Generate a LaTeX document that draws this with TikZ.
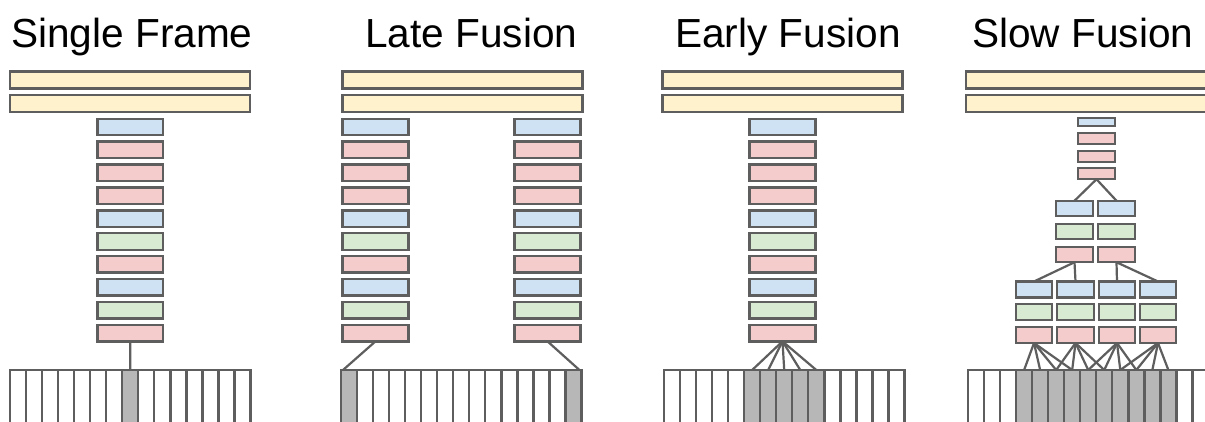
\documentclass[tikz,border=0pt]{standalone}
\usepackage{fontspec}
\setmainfont{Liberation Sans}
\definecolor{lc}{HTML}{5E5E5E}
\definecolor{cy}{HTML}{FFF2CC}
\definecolor{cb}{HTML}{CFE2F3}
\definecolor{cr}{HTML}{F4CCCC}
\definecolor{cg}{HTML}{D9EAD3}
\definecolor{cs}{HTML}{B7B7B7}
\tikzset{
  box/.style={draw=lc, line width=2.4pt, inner sep=0pt, outer sep=0pt, rectangle},
  bar/.style={box, fill=cy, minimum width=240pt, minimum height=17pt},
  colbox/.style={box, minimum width=65.7pt, minimum height=16.5pt},
  cell/.style={draw=lc, line width=2.4pt, fill=white, inner sep=0pt, outer sep=0pt, minimum width=16.03pt, minimum height=80pt},
  shaded/.style={cell, fill=cs},
  conn/.style={draw=lc, line width=2.2pt},
  title/.style={font=\fontsize{40.6}{48}\selectfont, anchor=base west, inner sep=0pt, text=black},
}
\begin{document}
\begin{tikzpicture}[x=1pt, y=-1pt]
\useasboundingbox (0,0) rectangle (1205,421);
\fill[white] (0,0) rectangle (1205,421);
\clip (0,0) rectangle (1205,421);

% titles
\node[title] (t1) at (11,47) {Single Frame};
\node[title] (t2) at (365,47) {Late Fusion};
\node[title] (t3) at (675,47) {Early Fusion};
\node[title] (t4) at (972,47) {Slow Fusion};

% top bars
\node[bar] (sf-y0) at (130,80) {};
\node[bar] (sf-y1) at (130,103.5) {};
\node[bar] (lf-y0) at (462.5,80) {};
\node[bar] (lf-y1) at (462.5,103.5) {};
\node[bar] (ef-y0) at (782.5,80) {};
\node[bar] (ef-y1) at (782.5,103.5) {};
\node[bar, minimum width=250pt] (sw-y0) at (1091,80) {};
\node[bar, minimum width=250pt] (sw-y1) at (1091,103.5) {};

% stacks
\foreach \c [count=\i from 0] in {cb,cr,cr,cr,cb,cg,cr,cb,cg,cr}{
  \node[colbox, fill=\c] (sf-b\i) at (130.2,{127+22.9*\i}) {};
  \node[colbox, fill=\c] (lfL-b\i) at (375.5,{127+22.9*\i}) {};
  \node[colbox, fill=\c] (lfR-b\i) at (547.5,{127+22.9*\i}) {};
  \node[colbox, fill=\c] (ef-b\i) at (782.5,{127+22.9*\i}) {};
}

% strips
\foreach \i in {0,...,6,8,9,...,14} \node[cell] (sfc\i) at ({10+16.03*(\i+0.5)},410) {};
\foreach \i in {7} \node[shaded] (sfc\i) at ({10+16.03*(\i+0.5)},410) {};
\foreach \i in {1,...,13} \node[cell] (lfc\i) at ({341+16.03*(\i+0.5)},410) {};
\foreach \i in {0,14} \node[shaded] (lfc\i) at ({341+16.03*(\i+0.5)},410) {};
\foreach \i in {0,...,4,10,11,...,14} \node[cell] (efc\i) at ({664+16.03*(\i+0.5)},410) {};
\foreach \i in {5,...,9} \node[shaded] (efc\i) at ({664+16.03*(\i+0.5)},410) {};
\foreach \i in {0,1,2,13,14} \node[cell] (swc\i) at ({968+16.03*(\i+0.5)},410) {};
\foreach \i in {3,...,12} \node[shaded] (swc\i) at ({968+16.03*(\i+0.5)},410) {};

% slow fusion: level 1
\node[box, fill=cb, minimum width=37.5pt, minimum height=8.5pt] (s1-0) at (1096.5,122) {};
\node[box, fill=cr, minimum width=37.5pt, minimum height=11.5pt] (s1-1) at (1096.5,138.5) {};
\node[box, fill=cr, minimum width=37.5pt, minimum height=11.5pt] (s1-2) at (1096.5,156.5) {};
\node[box, fill=cr, minimum width=37.5pt, minimum height=11.5pt] (s1-3) at (1096.5,173.5) {};
% level 2
\foreach \x [count=\k from 0] in {1074.5,1116.5}{
  \foreach \c/\y [count=\r from 0] in {cb/208.5,cg/231.5,cr/254.5}{
    \node[box, fill=\c, minimum width=37.5pt, minimum height=15.5pt] (s2-\k-\r) at (\x,\y) {};
  }
}
% level 3
\foreach \x [count=\k from 0] in {1034,1075.5,1117,1158}{
  \foreach \c/\y [count=\r from 0] in {cb/289.5,cg/312,cr/335}{
    \node[box, fill=\c, minimum width=36.5pt, minimum height=16pt] (s3-\k-\r) at (\x,\y) {};
  }
}

% connectors
\draw[conn] (sf-b9.south) -- (sfc7.north);
\draw[conn] (lfL-b9.south) -- ([xshift=2pt]lfc0.north west);
\draw[conn] (lfR-b9.south) -- ([xshift=-2pt]lfc14.north east);
\foreach \i in {5,...,9} \draw[conn] (ef-b9.south) -- (efc\i.north);
\draw[conn] (s1-3.south) -- (s2-0-0.north);
\draw[conn] (s1-3.south) -- (s2-1-0.north);
\draw[conn] (s2-0-2.south) -- (s3-0-0.north);
\draw[conn] (s2-0-2.south) -- (s3-1-0.north);
\draw[conn] (s2-1-2.south) -- (s3-2-0.north);
\draw[conn] (s2-1-2.south) -- (s3-3-0.north);
\foreach \k in {0,...,3}{
  \foreach \j in {0,...,3}{
    \pgfmathtruncatemacro\n{3+2*\k+\j}
    \draw[conn] (s3-\k-2.south) -- (swc\n.north);
  }
}
\end{tikzpicture}
\end{document}
